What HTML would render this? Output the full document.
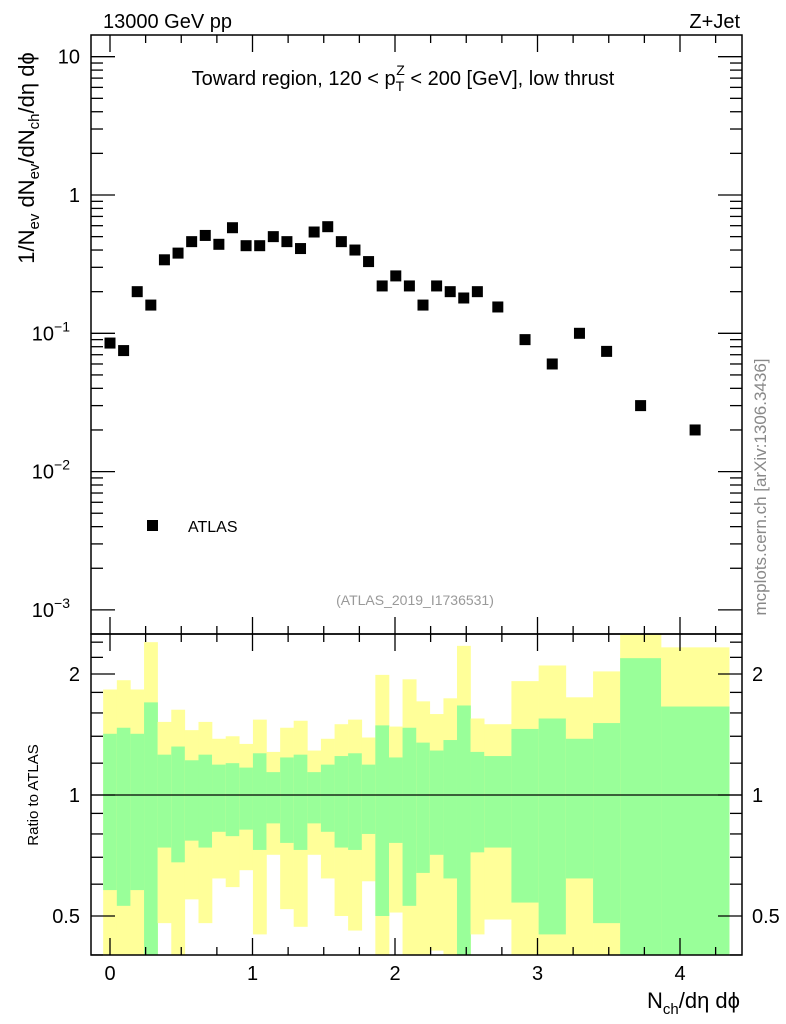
<!DOCTYPE html>
<html><head><meta charset="utf-8"><style>
html,body{margin:0;padding:0;background:#fff;}
svg{display:block;font-family:"Liberation Sans",sans-serif;}
</style></head><body>
<svg id="chart" width="786" height="1024" viewBox="0 0 786 1024">
<text x="103" y="28" font-size="20">13000 GeV pp</text>
<text x="740" y="28" font-size="20" text-anchor="end">Z+Jet</text>
<g id="ratioG"></g>
<g id="mainG"></g>
<g id="axes"></g>
<text x="403" y="85" font-size="20" text-anchor="middle">Toward region, 120 &lt; p<tspan font-size="14" dy="6">T</tspan><tspan font-size="14" dx="-8" dy="-16">Z</tspan><tspan dy="10"> &lt; 200 [GeV], low thrust</tspan></text>
<text transform="translate(34,158) rotate(-90)" font-size="22" text-anchor="middle">1/N<tspan font-size="15" dy="5">ev</tspan><tspan dy="-5"> dN</tspan><tspan font-size="15" dy="5">ev</tspan><tspan dy="-5">/dN</tspan><tspan font-size="15" dy="5">ch</tspan><tspan dy="-5">/dη dϕ</tspan></text>
<text transform="translate(38,795) rotate(-90)" font-size="15" text-anchor="middle">Ratio to ATLAS</text>
<text x="740" y="1008" font-size="22" text-anchor="end">N<tspan font-size="15" dy="6">ch</tspan><tspan dy="-6">/dη dϕ</tspan></text>
<text transform="translate(766,487) rotate(-90)" font-size="17" fill="#888" text-anchor="middle">mcplots.cern.ch [arXiv:1306.3436]</text>
<text x="415" y="605" font-size="14" fill="#999" text-anchor="middle">(ATLAS_2019_I1736531)</text>
<rect x="147" y="520" width="11" height="11" fill="#000"/>
<text x="188" y="532" font-size="16">ATLAS</text>
</svg>
<script>
const edges=[-0.048,0.048,0.143,0.239,0.334,0.43,0.525,0.621,0.716,0.812,0.907,1.003,1.098,1.194,1.289,1.385,1.48,1.576,1.671,1.767,1.862,1.958,2.053,2.149,2.244,2.34,2.435,2.53,2.626,2.817,3.008,3.199,3.39,3.58,3.867,4.345];
const values=[0.085,0.075,0.2,0.16,0.34,0.38,0.46,0.51,0.44,0.58,0.43,0.43,0.5,0.46,0.41,0.54,0.59,0.46,0.4,0.33,0.22,0.26,0.22,0.16,0.22,0.2,0.18,0.2,0.155,0.09,0.06,0.1,0.074,0.03,0.02];
const yelTop=[1.83,1.93,1.83,2.4,1.52,1.63,1.45,1.52,1.38,1.4,1.34,1.54,1.28,1.47,1.53,1.29,1.38,1.5,1.54,1.39,1.99,1.48,1.94,1.71,1.59,1.74,2.35,1.55,1.5,1.92,2.1,1.75,2.03,3.0,2.33];
const grnTop=[1.42,1.47,1.42,1.7,1.26,1.32,1.22,1.26,1.19,1.2,1.17,1.27,1.14,1.24,1.26,1.14,1.19,1.25,1.27,1.19,1.49,1.24,1.47,1.35,1.29,1.37,1.67,1.28,1.25,1.46,1.55,1.38,1.51,2.19,1.66];
const grnBot=[0.58,0.53,0.58,0.3,0.74,0.68,0.77,0.74,0.81,0.79,0.82,0.73,0.85,0.76,0.73,0.85,0.81,0.74,0.73,0.8,0.5,0.76,0.53,0.64,0.71,0.62,0.3,0.72,0.74,0.54,0.45,0.62,0.48,0.3,0.3];
const yelBot=[0.3,0.3,0.3,0.3,0.48,0.3,0.55,0.48,0.62,0.59,0.65,0.45,0.71,0.52,0.47,0.71,0.62,0.5,0.46,0.61,0.3,0.51,0.3,0.3,0.41,0.3,0.3,0.45,0.49,0.3,0.3,0.3,0.3,0.3,0.3];
const xTicks=[0,1,2,3,4];
const NS="http://www.w3.org/2000/svg";
const L=91,R=742,T=35,MB=634,RB=955;
const X=v=>110+v*142.5;
const Y=v=>195-Math.log10(v)*138.3;
const RY=v=>795-Math.log2(v)*121;
function mk(tag,attrs,parent){const e=document.createElementNS(NS,tag);for(const k in attrs)e.setAttribute(k,attrs[k]);parent.appendChild(e);return e;}
const svg=document.getElementById('chart');
const defs=mk('defs',{},svg);
const cp=mk('clipPath',{id:'rc'},defs);mk('rect',{x:L,y:MB,width:R-L,height:RB-MB},cp);
const rg=document.getElementById('ratioG');rg.setAttribute('clip-path','url(#rc)');
for(let i=0;i<values.length;i++){
 const x0=X(edges[i]),x1=X(edges[i+1]);
 const y1=mk('rect',{x:x0,y:RY(yelTop[i]),width:x1-x0+0.3,height:RY(yelBot[i])-RY(yelTop[i]),fill:'#ffff99'},rg);
 
 
 const g1=mk('rect',{x:x0,y:RY(grnTop[i]),width:x1-x0+0.3,height:RY(grnBot[i])-RY(grnTop[i]),fill:'#99ff99'},rg);
 
 
}
mk('line',{x1:L,x2:R,y1:RY(1),y2:RY(1),stroke:'#000','stroke-width':1.2},rg);
const mg=document.getElementById('mainG');
for(let i=0;i<values.length;i++){
 const c=(edges[i]+edges[i+1])/2;
 const p=mk('rect',{x:X(c)-5.5,y:Y(values[i])-5.5,width:11,height:11,fill:'#000'},mg);
 
 
}
const ax=document.getElementById('axes');
const ln=(a,b,c,d,w)=>mk('line',{x1:a,y1:b,x2:c,y2:d,stroke:'#000','stroke-width':w||1.3},ax);
mk('rect',{x:L,y:T,width:R-L,height:MB-T,fill:'none',stroke:'#000','stroke-width':1.5},ax);
mk('rect',{x:L,y:MB,width:R-L,height:RB-MB,fill:'none',stroke:'#000','stroke-width':1.5},ax);
for(let v=0;v<=4.4;v+=0.25){
 const major=Math.abs(v-Math.round(v))<1e-6, x=X(v);
 const l=major?17:8;
 [[T,1],[MB,-1],[MB,1],[RB,-1]].forEach(([y,s])=>ln(x,y,x,y+s*l));
}
xTicks.forEach(v=>{const t=mk('text',{x:X(v),y:980,'font-size':20,'text-anchor':'middle'},ax);t.textContent=v;
 
 });
for(let d=-3;d<=1;d++){for(let m=1;m<10;m++){const v=m*Math.pow(10,d);const y=Y(v);if(y<T||y>MB)continue;
 const l=m==1?24:12;ln(L,y,L+l,y);ln(R,y,R-l,y);}}
const ylab=[[10,'10',''],[1,'1',''],[0.1,'10','−1'],[0.01,'10','−2'],[0.001,'10','−3']];
ylab.forEach(([v,b,e])=>{const t=mk('text',{x:e?70:80,y:Y(v)+7,'font-size':20,'text-anchor':'end'},ax);t.textContent=b;
 
 
 if(e){const s=mk('tspan',{'font-size':14,dy:-9},t);s.textContent=e;}});
const rt=[0.4,0.5,0.6,0.7,0.8,0.9,1,1.2,1.4,1.6,1.8,2,2.2,2.4];
rt.forEach(v=>{const y=RY(v);const maj=(v==0.5||v==1||v==2);const l=maj?24:12;ln(L,y,L+l,y);ln(R,y,R-l,y);});
[[2,'2'],[1,'1'],[0.5,'0.5']].forEach(([v,s])=>{
 const a=mk('text',{x:80,y:RY(v)+7,'font-size':20,'text-anchor':'end'},ax);a.textContent=s;
 
 
 const b=mk('text',{x:752,y:RY(v)+7,'font-size':20},ax);b.textContent=s;
 
 });
</script>
</body></html>
